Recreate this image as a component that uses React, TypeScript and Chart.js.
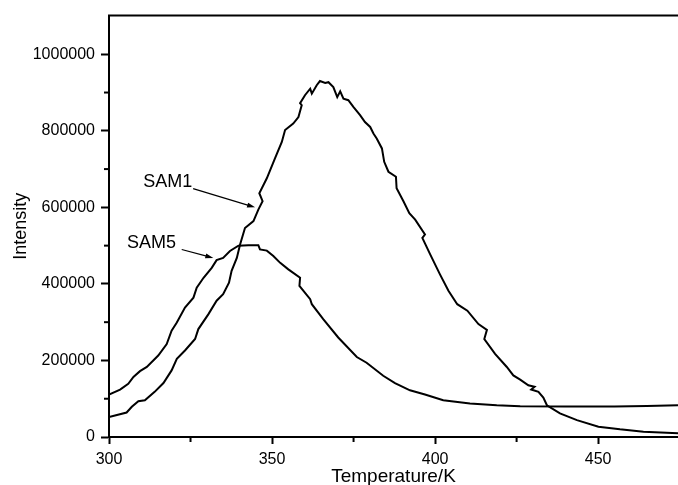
import React, { useEffect, useRef } from "react";
import { Chart, registerables } from "chart.js";

Chart.register(...registerables);

// Temperature (K) / Intensity pairs
const sam1Temp = [300, 305.4, 307, 309, 311, 314, 316.7, 319.2, 320.8, 323.3, 326.4, 327.4, 330.5, 333, 335, 336.8, 337.6, 339.2, 340.2, 341.7, 344.3, 345.8, 347.1, 346.1, 348.4, 350.9, 353, 354, 356.5, 358.1, 359.1, 358.6, 360.1, 361.7, 362.2, 363.7, 364.7, 366.3, 367.3, 368.8, 370, 370.9, 371.9, 373.4, 375, 377, 378.5, 380.1, 381.1, 382.1, 383.7, 384.4, 385.7, 388, 388.2, 390.3, 392.1, 393.9, 396.9, 396.1, 398.5, 401.5, 404.1, 406.8, 409.9, 413.3, 415.9, 415.1, 418.4, 422, 424, 426.1, 428.6, 430.5, 429.5, 431.7, 433.2, 434.3, 438.3, 443.5, 450.1, 456.7, 463.9, 474.5];
const sam1Int = [52000, 64000, 79000, 93500, 96000, 118000, 141000, 174000, 204000, 226000, 256000, 282000, 321000, 356000, 373000, 403000, 434000, 468000, 503000, 546000, 564000, 594000, 616000, 637000, 676000, 728000, 771000, 802000, 819000, 836000, 867000, 872000, 893000, 910000, 897000, 919000, 930000, 925000, 927000, 914000, 888000, 903000, 884000, 880000, 862000, 841000, 823000, 810000, 793000, 780000, 754000, 719000, 693000, 680000, 650000, 616000, 585000, 568000, 529000, 520000, 477000, 425000, 382000, 347000, 330000, 295000, 280000, 256000, 217000, 183000, 161000, 150000, 135000, 131000, 124000, 118000, 103000, 83000, 61500, 44000, 27000, 20000, 14000, 9500];

const sam5Temp = [300, 303.4, 305.9, 307.5, 309.5, 311.6, 315.1, 317.7, 319.2, 320.8, 323.3, 325.9, 326.9, 329, 331.5, 333, 335, 337.1, 339.7, 342.7, 345.8, 346.3, 348.4, 350.4, 352.5, 355, 358.6, 358.4, 361.7, 362.2, 365.7, 370.3, 376, 379, 384.1, 387.7, 392.3, 396.9, 402.5, 410.7, 418.9, 426.1, 440, 455, 465, 474.5];
const sam5Int = [111000, 124000, 139000, 157000, 172000, 183000, 213000, 243000, 278000, 299000, 338000, 364000, 390000, 416000, 442000, 462000, 468000, 486000, 500000, 501000, 501000, 490000, 487000, 473000, 455000, 438000, 416000, 395000, 360000, 347000, 308000, 260000, 209000, 194000, 160000, 141000, 122000, 111000, 96000, 87500, 83000, 80500, 80000, 80000, 81000, 83000];

const xTicks = [300, 325, 350, 375, 400, 425, 450];
const xLabelTicks = [300, 350, 400, 450];
const yTicks = [0, 100000, 200000, 300000, 400000, 500000, 600000, 700000, 800000, 900000, 1000000, 1100000];
const yLabelTicks = [0, 200000, 400000, 600000, 800000, 1000000];

// Annotation labels with arrows (data coordinates)
const annotLabels = ["SAM1", "SAM5"];
const annotTextX = [318, 313];
const annotTextY = [667000, 506500];
const annotFromX = [325.8, 322.3];
const annotFromY = [649000, 490000];
const annotToX = [344.8, 332];
const annotToY = [600000, 468000];

const FONT = "'Liberation Sans', Arial, sans-serif";

export default function App() {
  const ref = useRef<HTMLCanvasElement>(null);

  useEffect(() => {
    if (!ref.current) return;
    const extras = {
      id: "extras",
      afterDraw(chart: any) {
        const { ctx, chartArea, scales } = chart;
        const xs = scales.x;
        const ys = scales.y;
        ctx.save();
        ctx.strokeStyle = "#000";
        ctx.fillStyle = "#000";
        // top frame line
        ctx.lineWidth = 2;
        ctx.beginPath();
        ctx.moveTo(chartArea.left - 1, chartArea.top);
        ctx.lineTo(chart.width, chartArea.top);
        ctx.stroke();
        // minor ticks
        ctx.lineWidth = 2;
        yTicks.forEach((v) => {
          if (yLabelTicks.includes(v)) return;
          const py = ys.getPixelForValue(v);
          if (py < chartArea.top + 2) return;
          ctx.beginPath();
          ctx.moveTo(chartArea.left, py);
          ctx.lineTo(chartArea.left - 5, py);
          ctx.stroke();
        });
        xTicks.forEach((v) => {
          if (xLabelTicks.includes(v)) return;
          const px = xs.getPixelForValue(v);
          ctx.beginPath();
          ctx.moveTo(px, chartArea.bottom);
          ctx.lineTo(px, chartArea.bottom + 5);
          ctx.stroke();
        });
        // annotations
        ctx.font = `18px ${FONT}`;
        ctx.textAlign = "center";
        ctx.textBaseline = "middle";
        annotLabels.forEach((lab, i) => {
          ctx.fillText(lab, xs.getPixelForValue(annotTextX[i]), ys.getPixelForValue(annotTextY[i]));
          const x1 = xs.getPixelForValue(annotFromX[i]);
          const y1 = ys.getPixelForValue(annotFromY[i]);
          const x2 = xs.getPixelForValue(annotToX[i]);
          const y2 = ys.getPixelForValue(annotToY[i]);
          const ang = Math.atan2(y2 - y1, x2 - x1);
          ctx.lineWidth = 1.2;
          ctx.beginPath();
          ctx.moveTo(x1, y1);
          ctx.lineTo(x2 - 6 * Math.cos(ang), y2 - 6 * Math.sin(ang));
          ctx.stroke();
          ctx.beginPath();
          ctx.moveTo(x2, y2);
          ctx.lineTo(x2 - 8 * Math.cos(ang) + 2.5 * Math.sin(ang), y2 - 8 * Math.sin(ang) - 2.5 * Math.cos(ang));
          ctx.lineTo(x2 - 8 * Math.cos(ang) - 2.5 * Math.sin(ang), y2 - 8 * Math.sin(ang) + 2.5 * Math.cos(ang));
          ctx.closePath();
          ctx.fill();
        });
        ctx.restore();
      },
    };

    const chart = new Chart(ref.current, {
      type: "line",
      data: {
        datasets: [
          {
            label: "SAM1",
            data: sam1Temp.map((t, i) => ({ x: t, y: sam1Int[i] })),
            borderColor: "#000",
            borderWidth: 2,
            pointRadius: 0,
            tension: 0,
            fill: false,
          },
          {
            label: "SAM5",
            data: sam5Temp.map((t, i) => ({ x: t, y: sam5Int[i] })),
            borderColor: "#000",
            borderWidth: 2,
            pointRadius: 0,
            tension: 0,
            fill: false,
          },
        ],
      },
      options: {
        animation: false,
        responsive: false,
        maintainAspectRatio: false,
        layout: { padding: { top: 13, right: 0, left: 0, bottom: 0 } },
        plugins: { legend: { display: false }, tooltip: { enabled: false } },
        scales: {
          x: {
            type: "linear",
            min: 300,
            max: 474.5,
            afterBuildTicks: (s: any) => {
              s.ticks = xLabelTicks.map((v) => ({ value: v }));
            },
            afterFit: (s: any) => {
              s.height = 48;
            },
            ticks: {
              color: "#000",
              font: { family: FONT, size: 16 },
              padding: 6,
              maxRotation: 0,
              autoSkip: false,
              callback: (v: any) => String(v),
            },
            grid: {
              display: true,
              drawOnChartArea: false,
              drawTicks: true,
              tickLength: 7,
              tickWidth: 2,
              tickColor: "#000",
            },
            border: { display: true, color: "#000", width: 2 },
            title: {
              display: true,
              text: "Temperature/K",
              color: "#000",
              font: { family: FONT, size: 19, lineHeight: 1 },
              padding: { top: 0, bottom: -1 },
            },
          },
          y: {
            type: "linear",
            min: 0,
            max: 1101000,
            afterBuildTicks: (s: any) => {
              s.ticks = yLabelTicks.map((v) => ({ value: v }));
            },
            afterFit: (s: any) => {
              s.width = 109;
            },
            ticks: {
              color: "#000",
              font: { family: FONT, size: 16 },
              padding: 6,
              autoSkip: false,
              callback: (v: any) => String(v),
            },
            grid: {
              display: true,
              drawOnChartArea: false,
              drawTicks: true,
              tickLength: 8,
              tickWidth: 2,
              tickColor: "#000",
            },
            border: { display: true, color: "#000", width: 2 },
            title: {
              display: true,
              text: "Intensity",
              color: "#000",
              font: { family: FONT, size: 18, lineHeight: 1.2 },
              padding: { top: 10, bottom: 0 },
            },
          },
        },
      },
      plugins: [extras],
    } as any);
    return () => chart.destroy();
  }, []);

  return (
    <div style={{ position: "fixed", left: 0, top: 0, width: 678, height: 485, background: "#fff" }}>
      <canvas ref={ref} width={678} height={485} style={{ display: "block", width: 678, height: 485 }} />
    </div>
  );
}
